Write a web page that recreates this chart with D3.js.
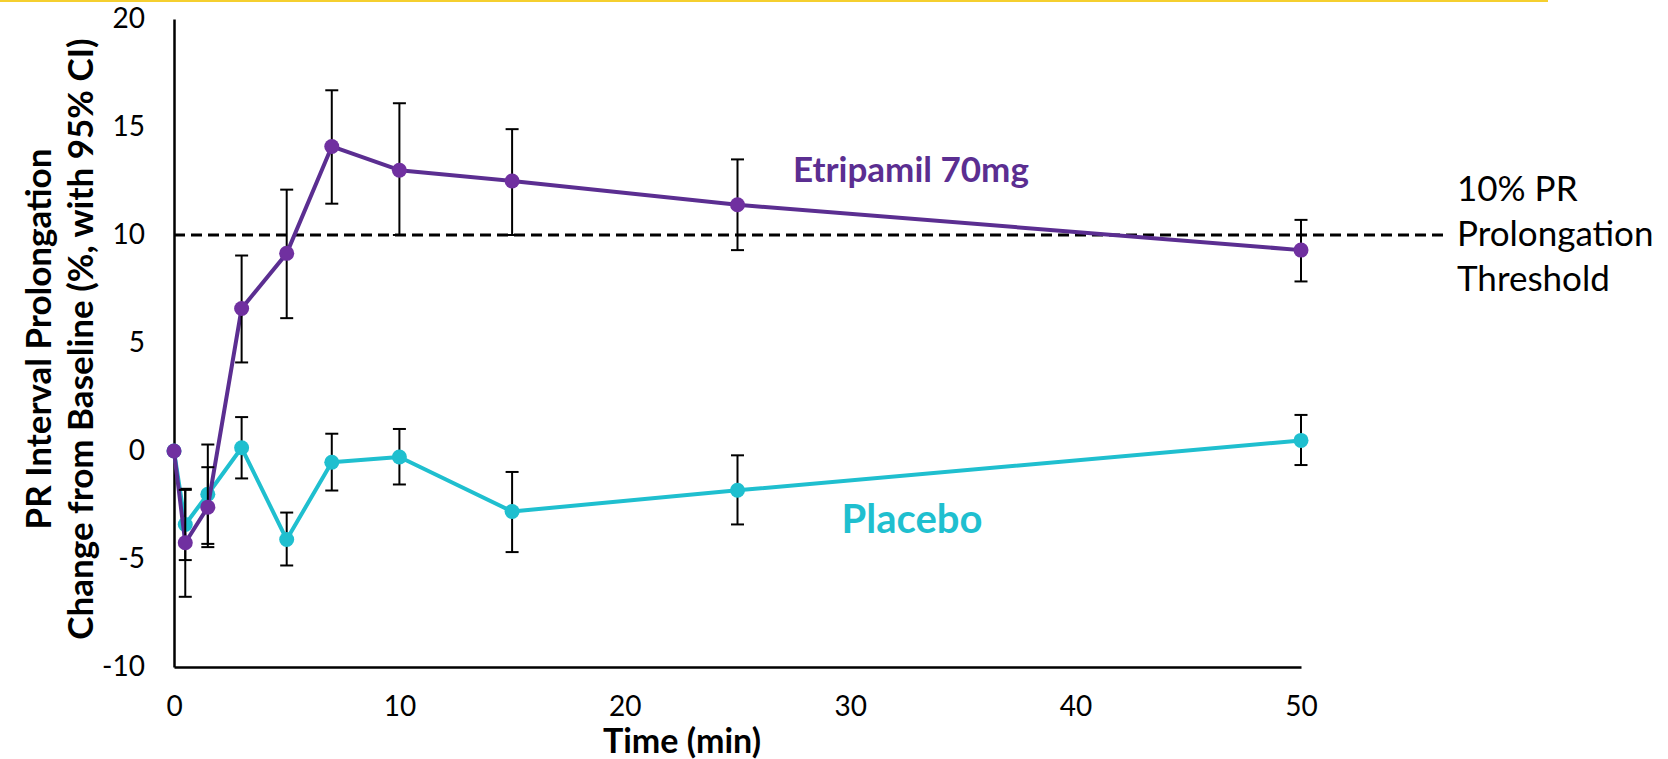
<!DOCTYPE html>
<html>
<head>
<meta charset="utf-8">
<script src="https://cdn.jsdelivr.net/npm/d3@7"></script>
<style>
  body { margin: 0; background: #fff; }
  svg { display: block; font-family: Lato, "Open Sans", sans-serif; }
</style>
</head>
<body>
<div class="graph"></div>
<script>
// time points (min)
var times = [0, 0.5, 1.5, 3, 5, 7, 10, 15, 25, 50];

// Etripamil 70mg: mean and 95% CI bounds
var etriMean = [0, -4.25, -2.6, 6.6, 9.15, 14.1, 13.0, 12.5, 11.4, 9.3];
var etriLow  = [null, -6.75, -4.45, 4.1, 6.15, 11.45, 10.0, 10.0, 9.3, 7.85];
var etriHigh = [null, -1.8, -0.75, 9.05, 12.1, 16.7, 16.1, 14.9, 13.5, 10.7];

// Placebo: mean and 95% CI bounds
var placMean = [0, -3.4, -2.0, 0.15, -4.1, -0.52, -0.28, -2.8, -1.82, 0.49];
var placLow  = [null, -5.05, -4.3, -1.27, -5.3, -1.83, -1.55, -4.68, -3.4, -0.65];
var placHigh = [null, -1.75, 0.3, 1.57, -2.85, 0.8, 1.02, -0.97, -0.2, 1.67];

var xTicks = [0, 10, 20, 30, 40, 50];
var yTicks = [-10, -5, 0, 5, 10, 15, 20];
var threshold = 10;

var w = 1668, h = 759;
var svg = d3.select('div.graph').append('svg')
    .attr('width', w).attr('height', h);

// slide accent line on top
svg.append('rect').attr('x', 0).attr('y', 0).attr('width', 1548).attr('height', 2)
    .attr('fill', '#F5CF2F');

var x = d3.scaleLinear().domain([0, 50]).range([174, 1301]);
var y = d3.scaleLinear().domain([-10, 20]).range([667, 19]);

// axes (no tick marks, plain hyphen for negatives)
var xAxis = d3.axisBottom(x).tickValues(xTicks).tickSize(0).tickPadding(29)
    .tickFormat(function(d){return String(d)});
var xAxisG = svg.append('g').attr('transform', 'translate(0,' + y(-10) + ')').call(xAxis);
xAxisG.select('.domain').attr('stroke', '#000').attr('stroke-width', 2.5);
xAxisG.selectAll('.tick text').attr('font-size', 28).attr('font-family', 'Lato').attr('fill', '#000');

var yAxis = d3.axisLeft(y).tickValues(yTicks).tickSize(0).tickPadding(29)
    .tickFormat(function(d){return String(d)});
var yAxisG = svg.append('g').attr('transform', 'translate(' + x(0) + ',0)').call(yAxis);
yAxisG.select('.domain').attr('stroke', '#000').attr('stroke-width', 2.5);
yAxisG.selectAll('.tick text').attr('font-size', 28).attr('font-family', 'Lato').attr('fill', '#000');

// axis titles
svg.append('text').attr('x', 682).attr('y', 741).attr('dy', '0.35em')
    .attr('text-anchor', 'middle').attr('font-weight', 'bold').attr('font-size', 34)
    .text('Time (min)');
var yTitle = svg.append('text').attr('transform', 'translate(0,339) rotate(-90)')
    .attr('text-anchor', 'middle').attr('font-weight', 'bold').attr('font-size', 35);
yTitle.append('tspan').attr('x', 0).attr('y', 39).attr('dy', '0.35em')
    .text('PR Interval Prolongation');
yTitle.append('tspan').attr('x', 0).attr('y', 81).attr('dy', '0.35em')
    .text('Change from Baseline (%, with 95% CI)');

// threshold line
svg.append('line')
    .attr('x1', x(0)).attr('x2', 1447)
    .attr('y1', y(threshold)).attr('y2', y(threshold))
    .attr('stroke', '#000').attr('stroke-width', 3).attr('stroke-dasharray', '11,6');
var thrText = svg.append('text').attr('font-size', 35).attr('fill', '#000');
['10% PR', 'Prolongation', 'Threshold'].forEach(function(s, i){
    thrText.append('tspan').attr('x', 1457).attr('y', 189 + i * 45).attr('dy', '0.35em').text(s);
});

function drawSeries(mean, low, high, lineColor, dotColor){
    var pts = times.map(function(t, i){
        return {t: t, v: mean[i], lo: low[i], hi: high[i]};
    });
    var g = svg.append('g');
    var line = d3.line().x(function(d){return x(d.t)}).y(function(d){return y(d.v)});
    g.append('path').datum(pts).attr('d', line)
        .attr('fill', 'none').attr('stroke', lineColor).attr('stroke-width', 4)
        .attr('stroke-linejoin', 'round');

    var bars = g.selectAll('.err').data(pts.filter(function(d){return d.lo !== null}))
        .enter().append('g').attr('class', 'err')
        .attr('stroke', '#000').attr('stroke-width', 2);
    bars.append('line')
        .attr('x1', function(d){return x(d.t)}).attr('x2', function(d){return x(d.t)})
        .attr('y1', function(d){return y(d.lo)}).attr('y2', function(d){return y(d.hi)});
    bars.append('line')
        .attr('x1', function(d){return x(d.t) - 6.5}).attr('x2', function(d){return x(d.t) + 6.5})
        .attr('y1', function(d){return y(d.lo)}).attr('y2', function(d){return y(d.lo)});
    bars.append('line')
        .attr('x1', function(d){return x(d.t) - 6.5}).attr('x2', function(d){return x(d.t) + 6.5})
        .attr('y1', function(d){return y(d.hi)}).attr('y2', function(d){return y(d.hi)});

    g.selectAll('.pt').data(pts).enter().append('circle').attr('class', 'pt')
        .attr('cx', function(d){return x(d.t)}).attr('cy', function(d){return y(d.v)})
        .attr('r', 7.5).attr('fill', dotColor);
}

drawSeries(placMean, placLow, placHigh, '#1FBFCF', '#1FBFCF');
drawSeries(etriMean, etriLow, etriHigh, '#5B2E91', '#7030A0');

// series labels
svg.append('text').attr('x', 911).attr('y', 170).attr('dy', '0.35em')
    .attr('text-anchor', 'middle').attr('font-weight', 'bold').attr('font-size', 35)
    .attr('fill', '#5B2E91').text('Etripamil 70mg');
svg.append('text').attr('x', 912).attr('y', 519).attr('dy', '0.35em')
    .attr('text-anchor', 'middle').attr('font-weight', 'bold').attr('font-size', 40)
    .attr('fill', '#1FBFCF').text('Placebo');
</script>
</body>
</html>
